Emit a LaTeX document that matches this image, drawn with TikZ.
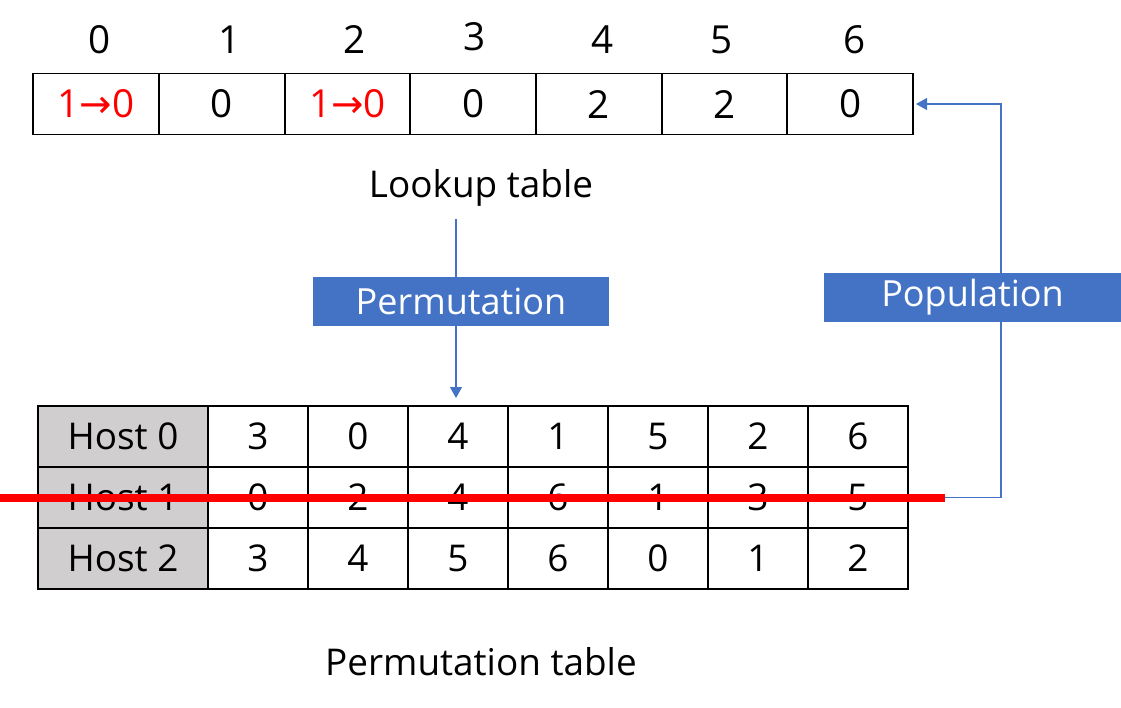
\documentclass[tikz,border=0pt]{standalone}
\usepackage{fontspec}
\setmainfont{Open Sans}
\newfontfamily\arrowfont{DejaVu Sans}
\usetikzlibrary{arrows.meta}
\definecolor{boxblue}{HTML}{4472C4}
\definecolor{hostgray}{HTML}{D0CECE}
\tikzset{
  cell/.style={draw, line width=1.1pt, minimum width=2.514cm, minimum height=1.22cm, inner sep=0pt, font=\fontsize{22}{26}\selectfont},
  hostcell/.style={draw, line width=1.1pt, fill=hostgray, minimum width=3.4cm, minimum height=1.22cm, inner sep=0pt, font=\fontsize{21}{25}\selectfont},
  valcell/.style={draw, line width=1.1pt, minimum width=2cm, minimum height=1.22cm, inner sep=0pt, font=\fontsize{21}{25}\selectfont},
  index/.style={inner sep=0pt, font=\fontsize{22}{26}\selectfont},
  tablename/.style={inner sep=0pt, font=\fontsize{21}{25}\selectfont},
  tag/.style={fill=boxblue, text=white, minimum height=0.98cm, inner sep=0pt, font=\fontsize{20.5}{24}\selectfont},
  flow/.style={-{Triangle[width=0.24cm, length=0.22cm]}, boxblue, line width=0.6pt},
  strike/.style={red, line width=4.5pt},
}
\newcommand{\swap}{\textcolor{red}{1{\arrowfont →}0}}
\begin{document}
\begin{tikzpicture}[x=0.02cm, y=-0.02cm]
  \useasboundingbox (0,0) rectangle (1121,707);
  % lookup table
  \foreach \v [count=\i from 0] in {{\swap},0,{\swap},0,2,2,0}
    \node[cell] (l\i) at (96+125.7*\i, 104) {\v};
  \foreach \x/\y [count=\i from 0] in {100/40,230/40,355/40,475/37,603/40,722/40,855/40}
    \node[index] (n\i) at (\x, \y) {\i};
  \node[tablename] (lookup) at (481, 188) {Lookup table};
  % permutation table
  \foreach \vals [count=\r from 0] in {{3,0,4,1,5,2,6},{0,2,4,6,1,3,5},{3,4,5,6,0,1,2}} {
    \node[hostcell] (h\r-0) at (123, 436.5+61*\r) {Host \r};
    \foreach \v [count=\c] in \vals
      \node[valcell] (h\r-\c) at (158+100*\c, 436.5+61*\r) {\v};
  }
  \node[tablename] (permtable) at (481, 662) {Permutation table};
  % connectors
  \coordinate (permfrom) at (456, 219);
  \coordinate (permto) at (456, 398);
  \coordinate (bend) at (1001, 497.5);
  \draw[flow] (permfrom) -- (permto);
  \draw[flow] (h1-7.east) -- (bend) |- ([xshift=0.04cm]l6.east);
  \node[tag, minimum width=5.92cm] (perm) at (461, 301.5) {Permutation};
  \node[tag, minimum width=5.94cm] (pop) at (972.5, 297.5) {Population};
  % host 1 struck out
  \coordinate (strikefrom) at (0, 498);
  \coordinate (striketo) at (945, 498);
  \draw[strike] (strikefrom) -- (striketo);
\end{tikzpicture}
\end{document}
